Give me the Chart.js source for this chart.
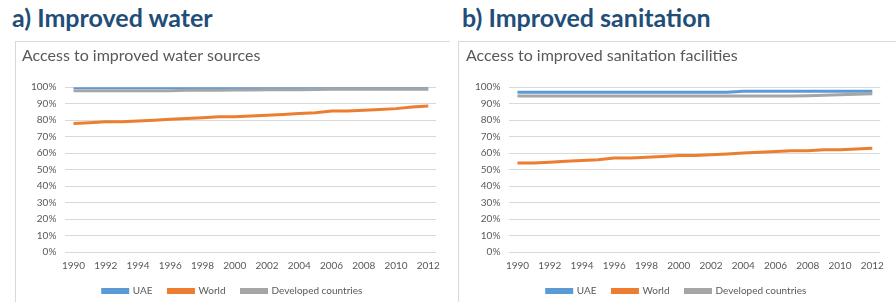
<!DOCTYPE html>
<html>
<head>
<meta charset="utf-8">
<script src="https://cdn.jsdelivr.net/npm/chart.js@4.4.1/dist/chart.umd.min.js"></script>
<style>
  html, body { margin: 0; padding: 0; background: #fff; overflow: hidden; }
  body { width: 896px; height: 302px; position: relative; font-family: Lato, "Open Sans", sans-serif; }
  .head { position: absolute; top: 2px; font-weight: bold; font-size: 25px; color: #1f4e79; white-space: nowrap; }
  .box { position: absolute; top: 41px; height: 280px; border-top: 1px solid #d9d9d9; border-left: 1px solid #d9d9d9; }
  canvas { position: absolute; }
</style>
</head>
<body>
<div class="head" style="left:12px">a) Improved water</div>
<div class="head" style="left:462px">b) Improved sanitation</div>
<div class="box" style="left:15px; width:434px"></div>
<div class="box" style="left:458px; width:440px"></div>
<canvas id="waterChart" width="432" height="280" style="left:16px; top:42px"></canvas>
<canvas id="sanitChart" width="432" height="280" style="left:460px; top:42px"></canvas>
<script>
const years = ['1990', '1991', '1992', '1993', '1994', '1995', '1996', '1997', '1998', '1999', '2000', '2001',
  '2002', '2003', '2004', '2005', '2006', '2007', '2008', '2009', '2010', '2011', '2012'];
const shownYears = ['1990', '1992', '1994', '1996', '1998', '2000', '2002', '2004', '2006', '2008', '2010', '2012'];
const yTicks = [0, 10, 20, 30, 40, 50, 60, 70, 80, 90, 100];

// a) water
const waterUAE = [99.8, 99.8, 99.8, 99.8, 99.8, 99.8, 99.8, 99.8, 99.8, 99.8, 99.8, 99.8,
  99.8, 99.8, 99.8, 99.8, 99.8, 99.8, 99.8, 99.8, 99.8, 99.8, 99.8];
const waterWorld = [78, 78.5, 79, 79, 79.5, 80, 80.5, 81, 81.5, 82, 82, 82.5,
  83, 83.5, 84, 84.5, 85.5, 85.5, 86, 86.5, 87, 88, 88.6];
const waterDeveloped = [97.9, 97.9, 97.9, 97.9, 97.9, 97.9, 97.9, 98.1, 98.2, 98.2, 98.3, 98.3,
  98.4, 98.5, 98.5, 98.6, 98.7, 98.7, 98.7, 98.7, 98.7, 98.7, 98.7];

// b) sanitation
const sanitUAE = [96.9, 96.9, 96.9, 96.9, 96.9, 96.9, 96.9, 96.9, 96.9, 96.9, 96.9, 96.9,
  96.9, 96.9, 97.5, 97.5, 97.5, 97.5, 97.5, 97.5, 97.5, 97.5, 97.5];
const sanitWorld = [54, 54, 54.5, 55, 55.5, 56, 57, 57, 57.5, 58, 58.5, 58.5,
  59, 59.5, 60, 60.5, 61, 61.5, 61.5, 62, 62, 62.5, 63];
const sanitDeveloped = [94.7, 94.7, 94.7, 94.7, 94.7, 94.7, 94.7, 94.7, 94.7, 94.7, 94.7, 94.7,
  94.7, 94.7, 94.7, 94.7, 94.7, 94.7, 94.8, 95.1, 95.4, 95.7, 96];

const seriesNames = ['UAE', 'World', 'Developed countries'];
const seriesColors = ['#5b9bd5', '#ed7d31', '#a5a5a5'];
const textColor = '#595959';
const gridColor = '#d9d9d9';

// the legend keeps its wide item spacing but sits closer to the axis
const legendShift = {
  id: 'legendShift',
  afterLayout(chart) {
    chart.legend.top -= 10;
    chart.legend.bottom -= 10;
  }
};

const makeChart = (id, title, values) => {
  const ctx = document.getElementById(id).getContext('2d');
  return new Chart(ctx, {
    type: 'line',
    data: {
      labels: years,
      datasets: values.map((v, i) => ({
        label: seriesNames[i],
        data: v,
        borderColor: seriesColors[i],
        backgroundColor: seriesColors[i],
        borderWidth: 3,
        pointRadius: 0,
        tension: 0,
        order: 3 - i
      }))
    },
    options: {
      responsive: false,
      animation: false,
      layout: { padding: { left: 6, right: 5, top: 0, bottom: 6 } },
      plugins: {
        title: {
          display: true,
          text: title,
          align: 'start',
          color: textColor,
          font: { family: 'Lato', size: 16, weight: 'normal' },
          padding: { top: 4, bottom: 22 }
        },
        legend: {
          position: 'bottom',
          labels: {
            color: textColor,
            font: { family: 'Lato', size: 10 },
            boxWidth: 25,
            boxHeight: 3,
            padding: 16,
            sort: (a, b) => a.datasetIndex - b.datasetIndex
          }
        },
        tooltip: { enabled: false }
      },
      scales: {
        x: {
          offset: true,
          grid: { display: false, drawTicks: false },
          border: { display: false },
          ticks: {
            color: textColor,
            font: { family: 'Lato', size: 10 },
            autoSkip: false,
            maxRotation: 0,
            padding: 8,
            callback: function (val) {
              const lab = this.getLabelForValue(val);
              return shownYears.includes(lab) ? lab : '';
            }
          }
        },
        y: {
          min: yTicks[0],
          max: yTicks[yTicks.length - 1],
          grid: { color: gridColor, drawTicks: false },
          border: { display: false },
          afterBuildTicks: (axis) => { axis.ticks = yTicks.map(v => ({ value: v })); },
          ticks: {
            color: textColor,
            font: { family: 'Lato', size: 10 },
            padding: 9,
            callback: (v) => v + '%'
          }
        }
      }
    },
    plugins: [legendShift]
  });
};

makeChart('waterChart', 'Access to improved water sources', [waterUAE, waterWorld, waterDeveloped]);
makeChart('sanitChart', 'Access to improved sanitation facilities', [sanitUAE, sanitWorld, sanitDeveloped]);
</script>
</body>
</html>
